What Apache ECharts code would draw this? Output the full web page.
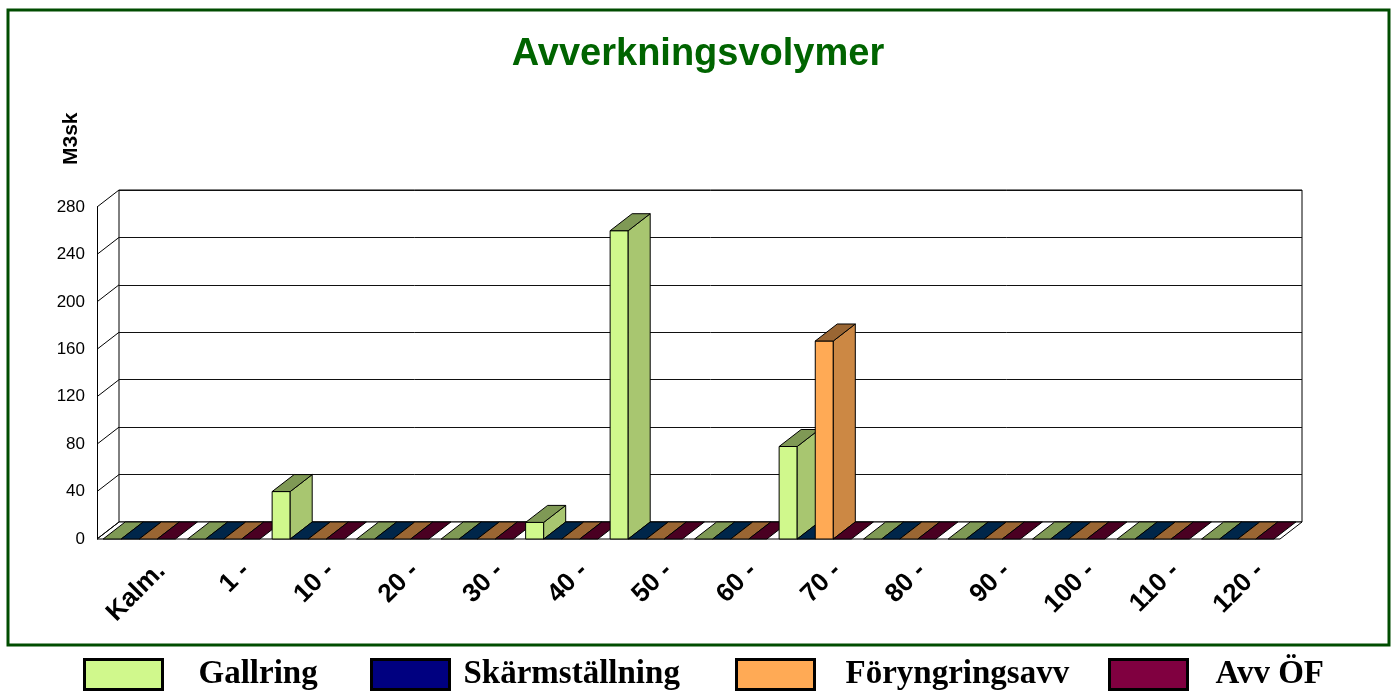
<!DOCTYPE html>
<html>
<head>
<meta charset="utf-8">
<title>Avverkningsvolymer</title>
<script src="https://cdn.jsdelivr.net/npm/echarts@6/dist/echarts.min.js"></script>
<style>
  html, body { margin: 0; padding: 0; background: #fff; }
  #chart { width: 1396px; height: 691px; }
</style>
</head>
<body>
<div id="chart"></div>
<script>
// Age classes (years) along the floor of the chart
const categories = ['Kalm.', '1 -', '10 -', '20 -', '30 -', '40 -', '50 -', '60 -', '70 -', '80 -', '90 -', '100 -', '110 -', '120 -'];

// Harvest volumes, m3sk, per age class
const gallring       = [0, 0, 40, 0, 0, 14, 260, 0, 78, 0, 0, 0, 0, 0];
const skarmstallning = [0, 0, 0, 0, 0, 0, 0, 0, 0, 0, 0, 0, 0, 0];
const foryngringsavv = [0, 0, 0, 0, 0, 0, 0, 0, 167, 0, 0, 0, 0, 0];
const avvOF          = [0, 0, 0, 0, 0, 0, 0, 0, 0, 0, 0, 0, 0, 0];

const seriesNames = ['Gallring', 'Skärmställning', 'Föryngringsavv', 'Avv ÖF'];
const seriesValues = [gallring, skarmstallning, foryngringsavv, avvOF];

// Value axis ticks
const yTicks = [0, 40, 80, 120, 160, 200, 240, 280];

// Shaded faces of each column: front, right side and top
const faceColors = [
  { front: '#D0F88C', side: '#A8C670', top: '#7F9955' },
  { front: '#000080', side: '#001A60', top: '#00264A' },
  { front: '#FFAA55', side: '#CC8844', top: '#9A6633' },
  { front: '#800040', side: '#660033', top: '#4A0022' }
];

// Perspective offset of the back wall relative to the front plane
const DEPTH_X = 22;
const DEPTH_Y = 17;

const FRONT = { left: 97, top: 207, width: 1183, height: 332 };
const BACK = { left: FRONT.left + DEPTH_X, top: FRONT.top - DEPTH_Y, width: FRONT.width, height: FRONT.height };

const EDGE = { stroke: '#000', lineWidth: 1 };

function columnRenderer(sIdx) {
  const c = faceColors[sIdx];
  return function (params, api) {
    const cat = api.value(0);
    const val = api.value(1);
    const base = api.coord([cat, 0]);
    const band = api.size([1, 0])[0];
    const inner = band * 0.855;
    const w = inner / 4;
    const x0 = base[0] - inner / 2 + sIdx * w;
    const x1 = x0 + w;
    const y0 = base[1];
    const yt = api.coord([cat, val])[1];
    const z2 = cat * 10 + sIdx;
    const children = [];
    if (val > 0) {
      children.push({
        type: 'rect', z2: z2,
        shape: { x: x0, y: yt, width: w, height: y0 - yt },
        style: Object.assign({ fill: c.front }, EDGE)
      });
      children.push({
        type: 'polygon', z2: z2,
        shape: { points: [[x1, y0], [x1 + DEPTH_X, y0 - DEPTH_Y], [x1 + DEPTH_X, yt - DEPTH_Y], [x1, yt]] },
        style: Object.assign({ fill: c.side }, EDGE)
      });
    }
    children.push({
      type: 'polygon', z2: z2,
      shape: { points: [[x0, yt], [x1, yt], [x1 + DEPTH_X, yt - DEPTH_Y], [x0 + DEPTH_X, yt - DEPTH_Y]] },
      style: Object.assign({ fill: c.top }, EDGE)
    });
    return { type: 'group', children: children };
  };
}

// Diagonal lines on the left side wall, one per value tick
function sideWallRenderer(params, api) {
  const v = api.value(0);
  const p = api.coord([0, v]);
  const band = api.size([1, 0])[0];
  const x = p[0] - band / 2;
  return {
    type: 'line', z2: -5,
    shape: { x1: x, y1: p[1], x2: x + DEPTH_X, y2: p[1] - DEPTH_Y },
    style: EDGE
  };
}

// Floor slab under the columns
function floorRenderer(params, api) {
  const band = api.size([1, 0])[0];
  const l = api.coord([0, 0]);
  const r = api.coord([categories.length - 1, 0]);
  const xl = l[0] - band / 2;
  const xr = r[0] + band / 2;
  const y = l[1];
  return {
    type: 'polygon', z2: -10,
    shape: { points: [[xl, y], [xr, y], [xr + DEPTH_X, y - DEPTH_Y], [xl + DEPTH_X, y - DEPTH_Y]] },
    style: { fill: '#fff', stroke: '#000', lineWidth: 1 }
  };
}

const columnSeries = seriesNames.map((name, s) => ({
  name: name,
  type: 'custom',
  xAxisIndex: 0,
  yAxisIndex: 0,
  itemStyle: { color: faceColors[s].front },
  renderItem: columnRenderer(s),
  encode: { x: 0, y: 1 },
  data: seriesValues[s].map((v, i) => [i, v])
}));

const legendLeft = [83, 370, 735, 1108];
const legendPad = [31, 9, 26, 23];

const option = {
  animation: false,
  backgroundColor: '#fff',
  title: {
    text: 'Avverkningsvolymer',
    left: 'center',
    top: 31,
    textStyle: { fontFamily: 'Liberation Sans, Arial, sans-serif', fontWeight: 'bold', fontSize: 38, color: '#006400' }
  },
  graphic: [{
    type: 'rect',
    silent: true,
    shape: { x: 8, y: 10, width: 1381, height: 635 },
    style: { fill: 'none', stroke: '#004D00', lineWidth: 3 }
  }],
  legend: seriesNames.map((n, i) => ({
    data: [n],
    left: legendLeft[i],
    top: 658,
    padding: 0,
    icon: 'rect',
    itemWidth: 78,
    itemHeight: 30,
    selectedMode: false,
    itemStyle: { borderColor: '#000', borderWidth: 3 },
    textStyle: {
      fontFamily: 'Liberation Serif, Times New Roman, serif',
      fontWeight: 'bold', fontSize: 33, color: '#000',
      padding: [18, 0, 0, legendPad[i]]
    }
  })),
  grid: [
    Object.assign({ containLabel: false }, FRONT),
    Object.assign({ containLabel: false, show: true, borderColor: '#000', borderWidth: 1, backgroundColor: 'transparent' }, BACK)
  ],
  xAxis: [
    {
      type: 'category', gridIndex: 0, data: categories,
      axisLine: { show: false }, axisTick: { show: false }, axisLabel: { show: false }, splitLine: { show: false }
    },
    {
      type: 'category', gridIndex: 1, data: categories,
      axisLine: { show: false }, axisTick: { show: false }, splitLine: { show: false },
      axisLabel: {
        interval: 0, rotate: 45, margin: 45,
        fontFamily: 'Liberation Sans, Arial, sans-serif', fontWeight: 'bold', fontSize: 26, color: '#000'
      }
    }
  ],
  yAxis: [
    {
      type: 'value', gridIndex: 0, min: 0, max: 280, interval: 40,
      name: 'M3sk', nameLocation: 'end', nameRotate: 90, nameGap: 42,
      nameTextStyle: {
        fontFamily: 'Liberation Sans, Arial, sans-serif', fontWeight: 'bold', fontSize: 21, color: '#000',
        align: 'left', verticalAlign: 'bottom', padding: [0, 0, 15, 0]
      },
      axisLine: { show: true, lineStyle: { color: '#000', width: 1 } },
      axisTick: { show: false },
      splitLine: { show: false },
      axisLabel: { margin: 12, fontFamily: 'Liberation Sans, Arial, sans-serif', fontSize: 17, color: '#000' }
    },
    {
      type: 'value', gridIndex: 1, min: 0, max: 280, interval: 40,
      axisLine: { show: false }, axisTick: { show: false }, axisLabel: { show: false },
      splitLine: { show: true, lineStyle: { color: '#111', width: 1 } }
    }
  ],
  series: [
    {
      name: 'floor', type: 'custom', xAxisIndex: 0, yAxisIndex: 0, silent: true,
      renderItem: floorRenderer, data: [[0]]
    },
    {
      name: 'sidewall', type: 'custom', xAxisIndex: 0, yAxisIndex: 0, silent: true,
      renderItem: sideWallRenderer, encode: { y: 0 }, data: yTicks.map(v => [v])
    }
  ].concat(columnSeries)
};

const chart = echarts.init(document.getElementById('chart'), null, { renderer: 'canvas' });
chart.setOption(option);
</script>
</body>
</html>
